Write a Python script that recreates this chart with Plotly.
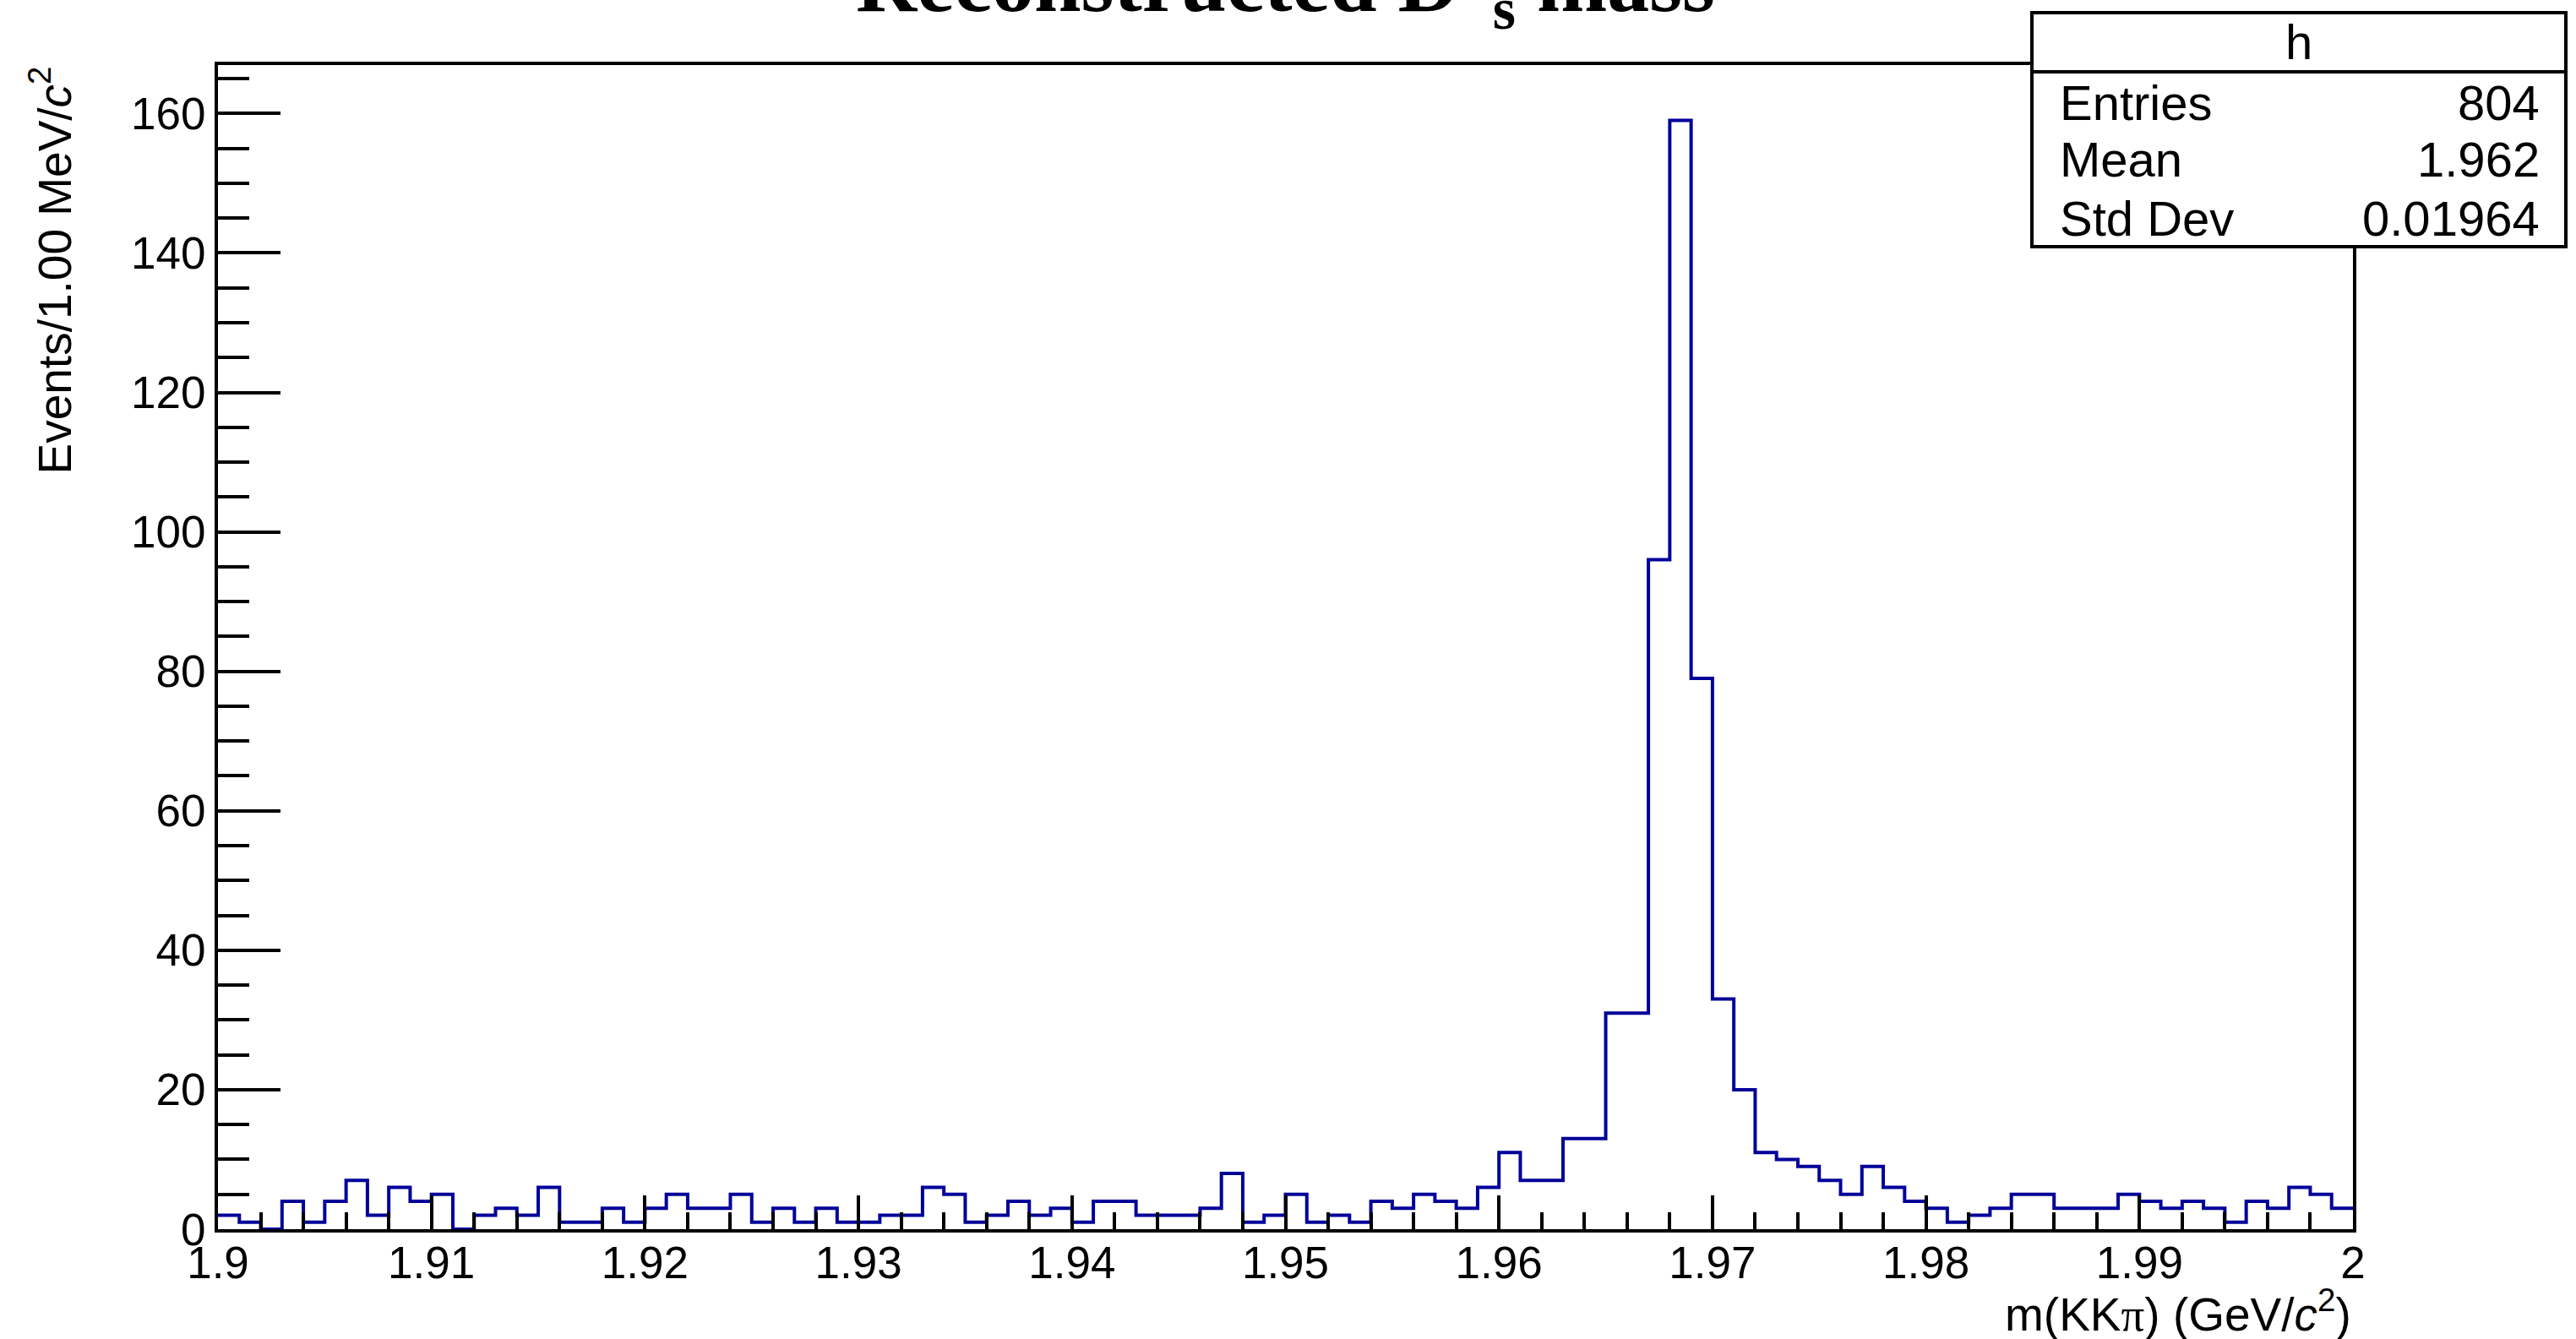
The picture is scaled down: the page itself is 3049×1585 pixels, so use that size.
import numpy as np
import plotly.graph_objects as go

# ---------------- data ----------------
x_low, x_high, n_bins = 1.9, 2.0, 100
counts = [2, 1, 0, 4, 1, 4, 7, 2, 6, 4,
          5, 0, 2, 3, 2, 6, 1, 1, 3, 1,
          3, 5, 3, 3, 5, 1, 3, 1, 3, 1,
          1, 2, 2, 6, 5, 1, 2, 4, 2, 3,
          1, 4, 4, 2, 2, 2, 3, 8, 1, 2,
          5, 1, 2, 1, 4, 3, 5, 4, 3, 6,
          11, 7, 7, 13, 13, 31, 31, 96, 159, 79,
          33, 20, 11, 10, 9, 7, 5, 9, 6, 4,
          3, 1, 2, 3, 5, 5, 3, 3, 3, 5,
          4, 3, 4, 3, 1, 4, 3, 6, 5, 3]
x_tick_vals = [1.9, 1.91, 1.92, 1.93, 1.94, 1.95, 1.96, 1.97, 1.98, 1.99, 2.0]
x_tick_text = ["1.9", "1.91", "1.92", "1.93", "1.94", "1.95", "1.96", "1.97", "1.98", "1.99", "2"]
y_tick_vals = [0, 20, 40, 60, 80, 100, 120, 140, 160]
y_tick_text = ["0", "20", "40", "60", "80", "100", "120", "140", "160"]
stats_name = "h"
stats_labels = ["Entries", "Mean", "Std Dev"]
stats_values = ["804", "1.962", "0.01964"]
title_text = "Reconstructed D<sup>+</sup><sub>s</sub> mass"
x_title = ("m(KK<span style='font-family:Liberation Serif'>\u03c0</span>) "
           "(GeV/<i>c</i><sup>2</sup>)")
y_title = "Events/1.00 MeV/<i>c</i><sup>2</sup>"

# ---------------- layout geometry ----------------
W, H = 3049, 1585
L, R, T, B = 258, 2785, 77, 1455   # plot frame in pixels


def px(xp):
    return (xp - L) / (R - L)


def py(yp):
    return (B - yp) / (B - T)


edges = np.linspace(x_low, x_high, n_bins + 1)
yvals = list(counts) + [counts[-1]]
ymax = 1.05 * max(counts)

font = "Liberation Sans, Arial, Helvetica, sans-serif"
blue = "#000099"

fig = go.Figure()
fig.add_trace(go.Scatter(x=edges, y=yvals, mode="lines",
                         line=dict(shape="hv", color=blue, width=4),
                         hoverinfo="skip", showlegend=False))

axis_common = dict(showline=True, linecolor="black", linewidth=4, mirror=True,
                   showgrid=False, zeroline=False, ticks="inside",
                   tickcolor="black", tickwidth=3.5,
                   tickfont=dict(family=font, size=53, color="black"))

fig.update_xaxes(range=[x_low, x_high], tickmode="array", tickvals=x_tick_vals,
                 ticktext=x_tick_text, ticklen=40, ticklabelstandoff=-10,
                 minor=dict(dtick=0.002, tick0=1.9, ticks="inside", ticklen=20,
                            tickwidth=3.5, tickcolor="black", showgrid=False),
                 **axis_common)
fig.update_yaxes(range=[0, ymax], tickmode="array", tickvals=y_tick_vals,
                 ticktext=y_tick_text, ticklen=74,
                 minor=dict(dtick=5, tick0=0, ticks="inside", ticklen=37,
                            tickwidth=3.5, tickcolor="black", showgrid=False),
                 **axis_common)

annotations = []
# title (top clipped by canvas edge, as in the reference)
annotations.append(dict(text="<b>" + title_text + "</b>", xref="paper", yref="paper",
                        x=0.5, y=py(-21), xanchor="center", yanchor="middle",
                        showarrow=False,
                        font=dict(family="Liberation Serif, Times New Roman, serif",
                                  size=100, color="black")))
# axis titles
annotations.append(dict(text=x_title, xref="paper", yref="paper", x=px(2785), y=py(1552),
                        xanchor="right", yanchor="middle", showarrow=False,
                        font=dict(family=font, size=55, color="black")))
annotations.append(dict(text=y_title, xref="paper", yref="paper", x=px(60), y=py(77),
                        xanchor="center", yanchor="top", textangle=-90, showarrow=False,
                        font=dict(family=font, size=55, color="black")))

# stats box
bx0, bx1, by0, by1, bsep = 2405, 3037, 292, 15, 85
shapes = [
    dict(type="rect", xref="paper", yref="paper", x0=px(bx0), x1=px(bx1),
         y0=py(by0), y1=py(by1), fillcolor="white", line=dict(color="black", width=4),
         layer="above"),
    dict(type="line", xref="paper", yref="paper", x0=px(bx0), x1=px(bx1),
         y0=py(bsep), y1=py(bsep), line=dict(color="black", width=4), layer="above"),
]
annotations.append(dict(text=stats_name, xref="paper", yref="paper",
                        x=px((bx0 + bx1) / 2), y=py((by1 + bsep) / 2),
                        xanchor="center", yanchor="middle", showarrow=False,
                        font=dict(family=font, size=58, color="black")))
row_centers = [121, 189, 258]
for lab, val, yc in zip(stats_labels, stats_values, row_centers):
    annotations.append(dict(text=lab, xref="paper", yref="paper", x=px(2436), y=py(yc),
                            xanchor="left", yanchor="middle", showarrow=False,
                            font=dict(family=font, size=58, color="black")))
    annotations.append(dict(text=val, xref="paper", yref="paper", x=px(3008), y=py(yc),
                            xanchor="right", yanchor="middle", showarrow=False,
                            font=dict(family=font, size=58, color="black")))

fig.update_layout(width=W, height=H, autosize=False,
                  margin=dict(l=L, r=W - R, t=T, b=H - B, pad=0),
                  paper_bgcolor="white", plot_bgcolor="white",
                  annotations=annotations, shapes=shapes, showlegend=False)

fig.write_html("out.html", config={"displayModeBar": False},
               post_script="document.body.style.margin='0';")
